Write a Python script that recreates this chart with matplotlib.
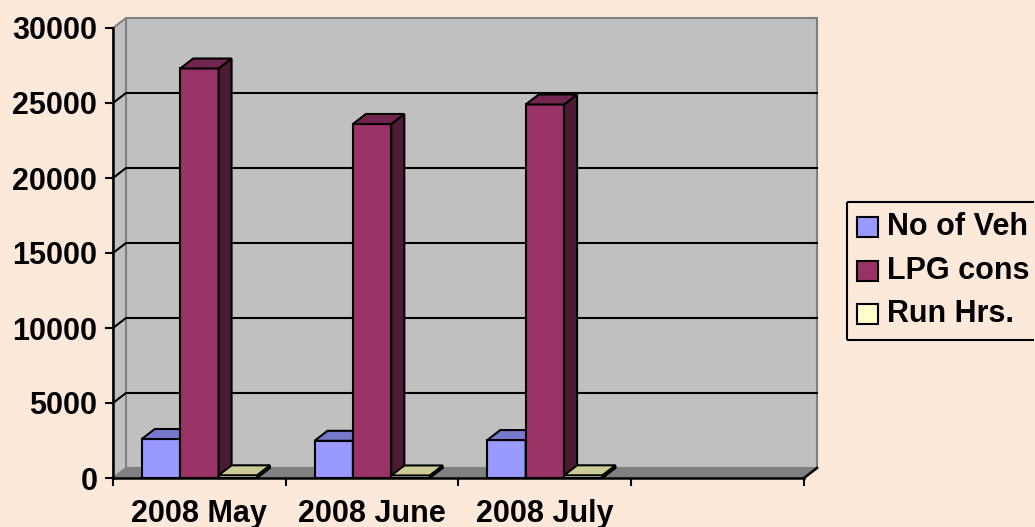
import matplotlib
matplotlib.use("Agg")
import matplotlib.pyplot as plt
from matplotlib.patches import Polygon, Rectangle
from matplotlib.lines import Line2D

# ---- data ----
categories = ["2008 May", "2008 June", "2008 July"]
series_names = ["No of Veh", "LPG cons", "Run Hrs."]
vehicles = [2600, 2480, 2530]
lpg = [27300, 23600, 24900]
run_hrs = [180, 170, 180]
yticks = [0, 5000, 10000, 15000, 20000, 25000, 30000]

series = [vehicles, lpg, run_hrs]
front_colors = ["#9999FF", "#993366", "#FFFFCC"]
top_colors = ["#7777CC", "#73264D", "#CCCC99"]
side_colors = ["#4D4D80", "#4D1A33", "#999973"]

BG = "#FCE9DA"
W, H = 1035, 527
fig = plt.figure(figsize=(W / 100, H / 100), dpi=100, facecolor=BG)
plt.rcParams['font.family'] = ['Liberation Sans', 'DejaVu Sans']
FS = 22

# front plane of the axes (pixels)
x0p, x1p, y0p, y1p = 113, 804, 478, 28
ax = fig.add_axes([x0p / W, (H - y0p) / H, (x1p - x0p) / W, (y0p - y1p) / H])
ax.set_facecolor("none")
nslots = 4
ymax = 30000
ax.set_xlim(0, nslots)
ax.set_ylim(0, ymax)

# depth offset expressed in data units
dpx, dpy = 13, 10
ddx = dpx * nslots / (x1p - x0p)
ddy = dpy * ymax / (y0p - y1p)

wall = "#C0C0C0"
floor = "#808080"
edge_gray = "#808080"

# back wall
ax.add_patch(Polygon([(ddx, ddy), (nslots + ddx, ddy), (nslots + ddx, ymax + ddy), (ddx, ymax + ddy)],
                     closed=True, facecolor=wall, edgecolor=edge_gray, lw=1.5, clip_on=False, zorder=1))
# left side wall
ax.add_patch(Polygon([(0, 0), (ddx, ddy), (ddx, ymax + ddy), (0, ymax)],
                     closed=True, facecolor=wall, edgecolor=edge_gray, lw=1.5, clip_on=False, zorder=1))
# floor
ax.add_patch(Polygon([(0, 0), (nslots, 0), (nslots + ddx, ddy), (ddx, ddy)],
                     closed=True, facecolor=floor, edgecolor=edge_gray, lw=1.0, clip_on=False, zorder=1))

# gridlines
for v in yticks[1:-1]:
    ax.add_line(Line2D([0, ddx, nslots + ddx], [v, v + ddy, v + ddy], color="black", lw=1.5,
                       clip_on=False, zorder=2))

# bars
ncat = len(categories)
nser = len(series)
bw = 1 / (nser + 1.5)
for i in range(ncat):
    for j in range(nser):
        v = series[j][i]
        left = i + 0.5 - nser * bw / 2 + j * bw
        right = left + bw
        z = 5 + i * 3 + j
        # front
        ax.add_patch(Polygon([(left, 0), (right, 0), (right, v), (left, v)], closed=True,
                             facecolor=front_colors[j], edgecolor="black", lw=1.5,
                             joinstyle="miter", clip_on=False, zorder=z))
        # side
        ax.add_patch(Polygon([(right, 0), (right + ddx, ddy), (right + ddx, v + ddy), (right, v)], closed=True,
                             facecolor=side_colors[j], edgecolor="black", lw=1.5,
                             joinstyle="miter", clip_on=False, zorder=z))
        # top
        ax.add_patch(Polygon([(left, v), (right, v), (right + ddx, v + ddy), (left + ddx, v + ddy)], closed=True,
                             facecolor=top_colors[j], edgecolor="black", lw=1.5,
                             joinstyle="miter", clip_on=False, zorder=z))

# axes styling
for s in ["top", "right"]:
    ax.spines[s].set_visible(False)
for s in ["left", "bottom"]:
    ax.spines[s].set_linewidth(1.8)
    ax.spines[s].set_zorder(30)
# diagonal at right end of category axis
ax.add_line(Line2D([nslots, nslots + ddx], [0, ddy], color="black", lw=1.8, clip_on=False, zorder=30))

ax.set_yticks(yticks)
ax.set_yticklabels([str(t) for t in yticks], fontsize=FS, fontweight="bold")
ax.tick_params(axis="y", direction="out", length=5.8, width=1.5, pad=5.5)
ax.set_xticks(range(nslots + 1))
ax.set_xticklabels([])
ax.tick_params(axis="x", which="major", direction="out", length=5.5, width=1.5)
ax.set_xticks([i + 0.5 for i in range(ncat)], minor=True)
ax.set_xticklabels(categories, minor=True, fontsize=FS, fontweight="bold")
ax.tick_params(axis="x", which="minor", length=0, pad=15)

# legend (manually laid out, open on the right where the reference is cut off)
lx, ly_top, ly_bot = 847, 202, 340
xr = (W - 1) / W
frame_kw = dict(transform=fig.transFigure, color="black", lw=1.5, solid_capstyle="butt")
fig.lines.append(Line2D([lx / W, xr], [(H - ly_top) / H] * 2, **frame_kw))
fig.lines.append(Line2D([lx / W, xr], [(H - ly_bot) / H] * 2, **frame_kw))
fig.lines.append(Line2D([lx / W, lx / W], [(H - ly_top) / H, (H - ly_bot) / H], **frame_kw))
ys = [227, 271, 314]
for j, name in enumerate(series_names):
    yc = ys[j]
    fig.patches.append(Rectangle((857 / W, (H - yc - 10) / H), 21 / W, 20 / H, transform=fig.transFigure,
                                 facecolor=front_colors[j], edgecolor="black", lw=1.5))
    fig.text(887 / W, (H - yc) / H, name, fontsize=FS, fontweight="bold", va="center", ha="left")

fig.savefig("out.png", dpi=100, facecolor=BG)
